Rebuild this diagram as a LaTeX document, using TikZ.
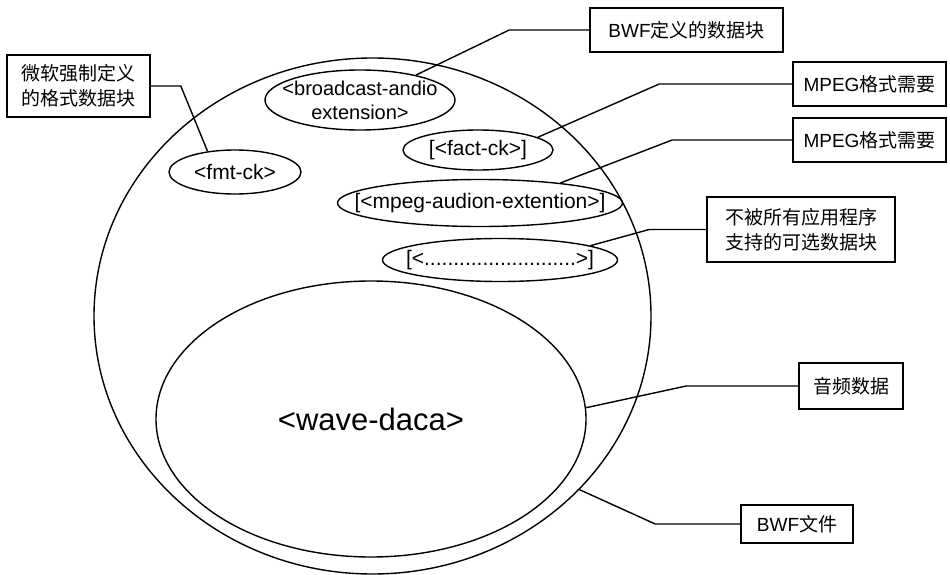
\documentclass[tikz,border=0pt]{standalone}
\usepackage{fontspec}
\setmainfont{Liberation Sans}
\newfontfamily\cjk{Noto Sans CJK SC}
\newcommand{\lat}[1]{{\rmfamily #1}}
\usetikzlibrary{shapes.geometric}

\begin{document}
\begin{tikzpicture}[
        x=1pt, y=-1pt,
        chunk/.style={
            ellipse,
            draw=black,
            line width=1.4pt,
            inner sep=0pt,
            font=\fontsize{21}{24}\selectfont
        },
        chunktext/.style={
            inner sep=0pt,
            align=center,
            font=\fontsize{21}{24}\selectfont
        },
        note/.style={
            rectangle,
            draw=black,
            line width=1.6pt,
            inner sep=0pt,
            align=center,
            font=\fontsize{19}{25}\selectfont\cjk
        },
        link/.style={
            line width=1.4pt,
            black
        }
    ]
    \useasboundingbox (0,0) rectangle (950,575);

    % File and audio data (big ellipses)
    \node[chunk, minimum width=557pt, minimum height=516pt] (bwf) at (372.5,316) {};
    \node[chunk, minimum width=430pt, minimum height=276pt,
          font=\fontsize{31}{36}\selectfont] (wave) at (371,419) {<wave-daca>};

    % Chunks inside the file
    \node[chunk, minimum width=132pt, minimum height=44pt] (fmt) at (235,172) {<fmt-ck>};
    \node[chunk, minimum width=190pt, minimum height=60pt,
          label={[chunktext, font=\fontsize{20}{24}\selectfont]center:{<broadcast-andio\\extension>}}] (bext) at (360,100) {};
    \node[chunk, minimum width=150pt, minimum height=40pt] (fact) at (478,150) {[<fact-ck>]};
    \node[chunk, minimum width=285pt, minimum height=47pt,
          label={[chunktext]center:{[<mpeg-audion-extention>]}}] (mext) at (480,203) {};
    \node[chunk, minimum width=235pt, minimum height=43pt,
          label={[chunktext]center:{[<..........................>]}}] (opt) at (500,260) {};

    % Notes
    \node[note, minimum width=143pt, minimum height=62pt] (msnote)  at (78.5,86)  {微软强制定义\\的格式数据块};
    \node[note, minimum width=193pt, minimum height=44pt] (bwfnote) at (686.5,30) {\lat{BWF}定义的数据块};
    \node[note, minimum width=153pt, minimum height=44pt] (mpega)   at (869.5,84) {\lat{MPEG}格式需要};
    \node[note, minimum width=153pt, minimum height=44pt] (mpegb)   at (869.5,140) {\lat{MPEG}格式需要};
    \node[note, minimum width=188pt, minimum height=65pt] (optnote) at (801,229.5) {不被所有应用程序\\支持的可选数据块};
    \node[note, minimum width=104pt, minimum height=46pt] (audio)   at (851,386)  {音频数据};
    \node[note, minimum width=112pt, minimum height=38pt] (file)    at (797,524)  {\lat{BWF}文件};

    % Leader lines
    \draw[link] (msnote.east) -- ([xshift=30pt]msnote.east) -- (fmt.143);
    \draw[link] (bext.24) -- ([xshift=-80pt]bwfnote.west) -- (bwfnote.west);
    \draw[link] (fact.12) -- ([xshift=-133pt]mpega.west) -- (mpega.west);
    \draw[link] (mext.14) -- ([xshift=-120pt]mpegb.west) -- (mpegb.west);
    \draw[link] (opt.9) -- ([xshift=-57pt]optnote.west) -- (optnote.west);
    \draw[link] (wave.3) -- ([xshift=-112pt]audio.west) -- (audio.west);
    \draw[link] (bwf.-40) -- ([xshift=-85pt]file.west) -- (file.west);

\end{tikzpicture}
\end{document}
